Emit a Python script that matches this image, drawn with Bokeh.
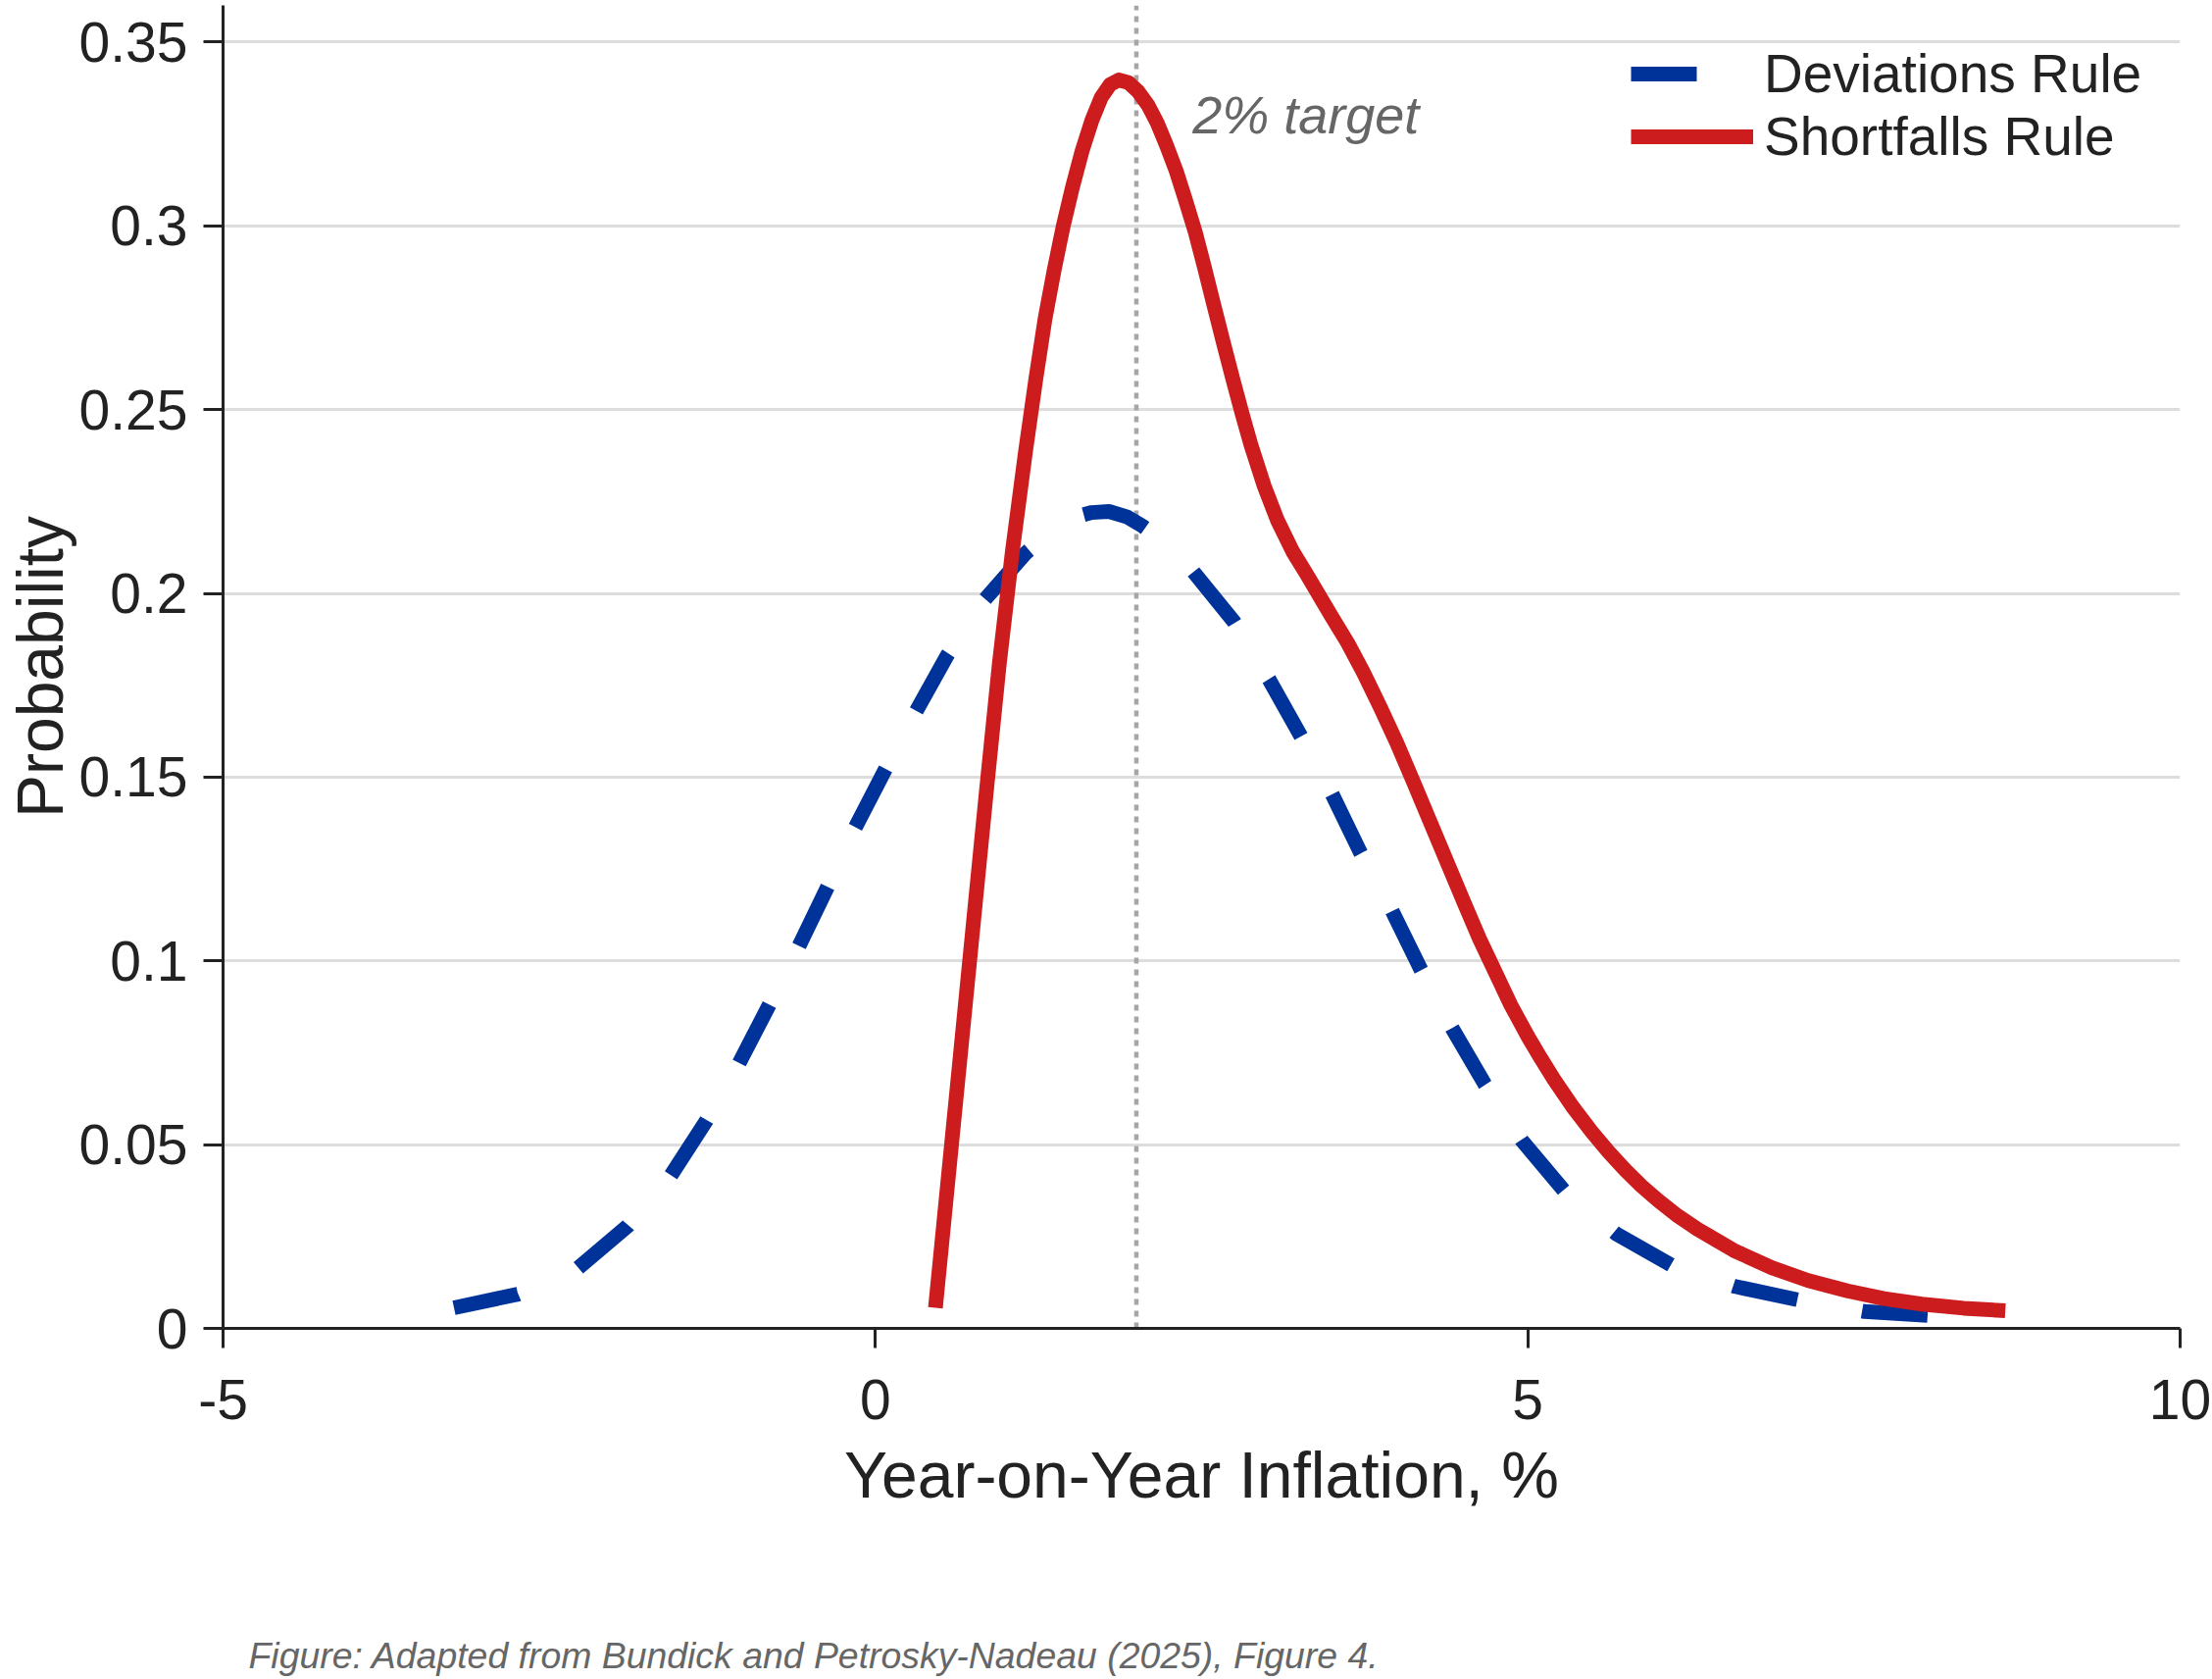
from bokeh.plotting import figure
from bokeh.models import (Range1d, FixedTicker, Legend, LegendItem, Label, Title)
from bokeh.embed import file_html
from bokeh.resources import INLINE

# Year-on-year inflation (%) and probability for each policy rule
deviations_x = [-3.23, -2.74, -2.29, -1.90, -1.57, -1.30, -1.05, -0.82, -0.59, -0.37,
                -0.16, 0.07, 0.31, 0.55, 0.84, 1.15, 1.37, 1.584, 1.658, 1.79,
                1.93, 2.044, 2.24, 2.43, 2.75, 3.02, 3.26, 3.50, 3.72, 3.96,
                4.18, 4.42, 4.67, 4.96, 5.28, 5.68, 6.11, 6.59, 7.08, 7.58,
                8.07]
deviations_y = [0.0056, 0.0093, 0.0161, 0.0278, 0.0415, 0.0563, 0.0718, 0.0876, 0.1037, 0.1199,
                0.1359, 0.1517, 0.1678, 0.1831, 0.1984, 0.2109, 0.2175, 0.2213, 0.2220, 0.2223,
                0.2208, 0.2184, 0.2135, 0.2062, 0.1922, 0.1764, 0.1612, 0.1454, 0.1293, 0.1136,
                0.0977, 0.0817, 0.0665, 0.0509, 0.0374, 0.0257, 0.0170, 0.0114, 0.0077, 0.0046,
                0.0035]

shortfalls_x = [0.46, 0.55, 0.65, 0.75, 0.85, 0.95, 1.05, 1.15, 1.23, 1.30,
                1.37, 1.44, 1.51, 1.585, 1.66, 1.73, 1.80, 1.865, 1.94, 2.015,
                2.09, 2.16, 2.23, 2.305, 2.375, 2.45, 2.52, 2.59, 2.665, 2.74,
                2.81, 2.88, 2.98, 3.08, 3.20, 3.30, 3.40, 3.50, 3.62, 3.74,
                3.87, 4.00, 4.12, 4.25, 4.38, 4.51, 4.63, 4.75, 4.87, 5.00,
                5.10, 5.20, 5.35, 5.49, 5.62, 5.75, 5.87, 6.00, 6.15, 6.30,
                6.58, 6.87, 7.15, 7.45, 7.73, 8.02, 8.34, 8.66]
shortfalls_y = [0.0056, 0.0380, 0.0740, 0.1100, 0.1460, 0.1810, 0.2115, 0.2385, 0.2585, 0.2747,
                0.2880, 0.3000, 0.3105, 0.3205, 0.3288, 0.3349, 0.3385, 0.3397, 0.3390, 0.3365,
                0.3328, 0.3280, 0.3220, 0.3150, 0.3072, 0.2985, 0.2890, 0.2790, 0.2685, 0.2582,
                0.2490, 0.2402, 0.2292, 0.2200, 0.2113, 0.2055, 0.1995, 0.1935, 0.1865, 0.1785,
                0.1690, 0.1590, 0.1490, 0.1380, 0.1270, 0.1160, 0.1060, 0.0970, 0.0880, 0.0795,
                0.0735, 0.0678, 0.0600, 0.0535, 0.0480, 0.0430, 0.0388, 0.0348, 0.0306, 0.0270,
                0.0212, 0.0165, 0.0130, 0.0102, 0.0081, 0.0066, 0.0055, 0.0048]

target_rate = 2.0
series_names = ["Deviations Rule", "Shortfalls Rule"]

x_ticks = [-5, 0, 5, 10]
x_tick_labels = ["-5", "0", "5", "10"]
y_ticks = [0, 0.05, 0.1, 0.15, 0.2, 0.25, 0.3, 0.35]
y_tick_labels = ["0", "0.05", "0.1", "0.15", "0.2", "0.25", "0.3", "0.35"]

BLUE = "#003399"
RED = "#cc1c1e"
INK = "#222222"
NOTE = "#666666"
FONT = "Liberation Sans"

p = figure(width=2256, height=1712, output_backend="svg", toolbar_location=None,
           x_range=Range1d(-5, 10), y_range=Range1d(0, 0.36),
           min_border_left=227, min_border_right=33, min_border_top=5, min_border_bottom=358)
p.outline_line_color = None
p.background_fill_color = "white"
p.border_fill_color = "white"

# axes
for ax in (p.xaxis[0], p.yaxis[0]):
    ax.axis_line_color = INK
    ax.axis_line_width = 3
    ax.major_tick_line_color = INK
    ax.major_tick_line_width = 3
    ax.major_tick_in = 0
    ax.major_tick_out = 20
    ax.minor_tick_line_color = None
    ax.major_label_text_font = FONT
    ax.major_label_text_font_size = "57px"
    ax.major_label_text_color = INK
    ax.axis_label_text_font = FONT
    ax.axis_label_text_font_style = "normal"
    ax.axis_label_text_color = INK

p.xaxis.ticker = FixedTicker(ticks=x_ticks)
p.xaxis.major_label_overrides = {t: s for t, s in zip(x_ticks, x_tick_labels)}
p.xaxis.major_label_standoff = 32
p.xaxis.axis_label = "Year-on-Year Inflation, %"
p.xaxis.axis_label_text_font_size = "66px"
p.xaxis.axis_label_standoff = 17

p.yaxis.ticker = FixedTicker(ticks=y_ticks)
p.yaxis.major_label_overrides = {t: s for t, s in zip(y_ticks, y_tick_labels)}
p.yaxis.major_label_standoff = 16
p.yaxis.axis_label = "Probability"
p.yaxis.axis_label_text_font_size = "66px"
p.yaxis.axis_label_standoff = 0

p.xgrid.grid_line_color = None
p.ygrid.grid_line_color = "#dddddd"
p.ygrid.grid_line_width = 3

# 2% target marker
p.line([target_rate, target_rate], [0, 0.36], line_color="#a6a6a6", line_width=4.5,
       line_dash="6 6")
p.add_layout(Label(x=2.43, y=0.3303, text="2% target", text_font=FONT,
                   text_font_style="italic", text_font_size="54px", text_color=NOTE,
                   text_baseline="alphabetic", text_align="left"))

# distributions
r_dev = p.line(deviations_x, deviations_y, line_color=BLUE, line_width=15,
               line_dash="67 67", line_cap="butt", line_join="round")
r_sho = p.line(shortfalls_x, shortfalls_y, line_color=RED, line_width=15,
               line_join="round")

legend = Legend(items=[LegendItem(label=series_names[0], renderers=[r_dev]),
                       LegendItem(label=series_names[1], renderers=[r_sho])],
                location=(1436, 1183), orientation="vertical",
                glyph_width=125, glyph_height=60, label_height=60, label_standoff=11,
                spacing=-2, padding=0, margin=0,
                label_text_font=FONT, label_text_font_size="55px", label_text_color=INK,
                border_line_color=None, background_fill_alpha=0)
p.add_layout(legend, "center")

# blank band between the axis title and the source note
gap = Title(text=" ", text_font_size="10px", standoff=108)
p.add_layout(gap, "below")

# source note under the chart
note = Title(text="Figure: Adapted from Bundick and Petrosky-Nadeau (2025), Figure 4.",
             align="left", offset=26, standoff=0, text_font=FONT,
             text_font_style="italic", text_font_size="37.4px", text_color=NOTE)
p.add_layout(note, "below")

open("out.html", "w").write(file_html(p, INLINE))
